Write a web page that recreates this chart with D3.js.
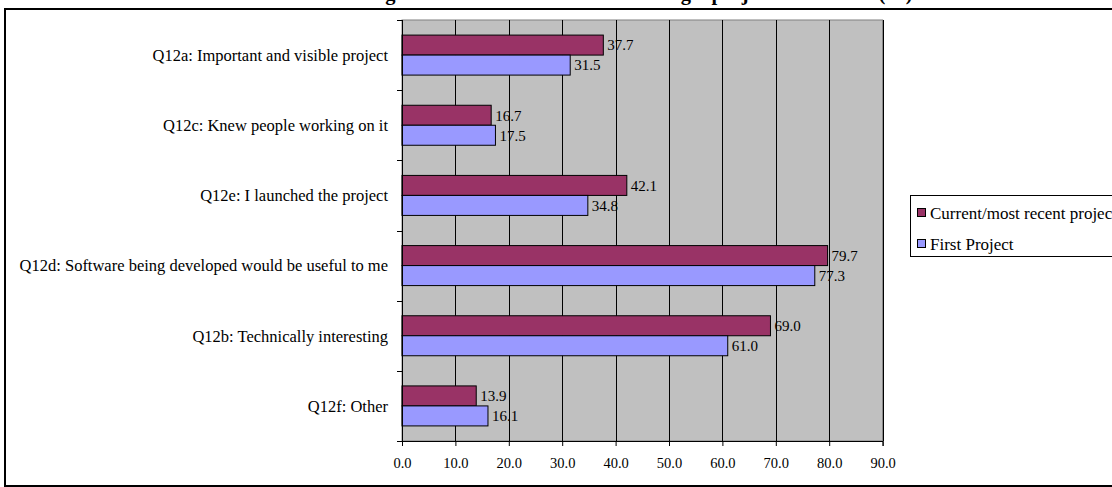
<!DOCTYPE html>
<html>
<head>
<meta charset="utf-8">
<script src="https://cdn.jsdelivr.net/npm/d3@7"></script>
<style>
  html, body { margin: 0; padding: 0; background: #fff; }
  svg { display: block; }
  svg text { font-family: "Liberation Serif", "Times New Roman", serif; fill: #000; }
</style>
</head>
<body>
<svg id="chart" width="1112" height="487"></svg>
<script>
// Survey question categories (top to bottom)
const categories = [
  "Q12a: Important and visible project",
  "Q12c: Knew people working on it",
  "Q12e: I launched the project",
  "Q12d: Software being developed would be useful to me",
  "Q12b: Technically interesting",
  "Q12f: Other"
];
const seriesNames = ["Current/most recent project", "First Project"];
const currentValues = [37.7, 16.7, 42.1, 79.7, 69.0, 13.9];
const firstValues = [31.5, 17.5, 34.8, 77.3, 61.0, 16.1];
const xTicks = [0, 10, 20, 30, 40, 50, 60, 70, 80, 90];
const colors = ["#993366", "#9999FF"];
const titleText = "Figure 12: Main reasons for selecting a project to work on (%)";

const FONT = "Liberation Serif, Times New Roman, serif";
const svg = d3.select("#chart");

// Outer chart frame
svg.append("rect")
  .attr("x", 5).attr("y", 9)
  .attr("width", 1200).attr("height", 477)
  .attr("fill", "#fff").attr("stroke", "#000").attr("stroke-width", 2);

// Title (sits above the frame, mostly outside the page)
svg.append("text")
  .attr("x", 367).attr("y", 0)
  .attr("font-family", FONT)
  .attr("font-weight", "bold").attr("font-size", 20.5)
  .text(titleText);

const plot = { left: 402, right: 882.6, top: 20, bottom: 441 };

const x = d3.scaleLinear().domain([0, 90]).range([plot.left, plot.right]);
const y = d3.scaleBand().domain(categories).range([plot.top, plot.bottom]).padding(0);
const barH = 20;

// Plot area background
svg.append("rect")
  .attr("x", plot.left).attr("y", plot.top)
  .attr("width", plot.right - plot.left).attr("height", plot.bottom - plot.top)
  .attr("fill", "#C0C0C0").attr("stroke", "#808080").attr("stroke-width", 1);

// Vertical gridlines
svg.append("g")
  .selectAll("line")
  .data(xTicks.slice(1))
  .join("line")
  .attr("x1", d => Math.round(x(d)) + 0.5).attr("x2", d => Math.round(x(d)) + 0.5)
  .attr("y1", plot.top).attr("y2", plot.bottom)
  .attr("stroke", "#000").attr("stroke-width", 1);

// Bars
const rows = categories.map((c, i) => ({ c, vals: [currentValues[i], firstValues[i]] }));
const groups = svg.append("g").selectAll("g").data(rows).join("g");

groups.selectAll("rect")
  .data(d => d.vals.map((v, k) => ({ c: d.c, v, k })))
  .join("rect")
  .attr("x", x(0))
  .attr("y", d => y(d.c) + y.bandwidth() / 2 - barH + d.k * barH)
  .attr("width", d => x(d.v) - x(0))
  .attr("height", barH)
  .attr("fill", d => colors[d.k])
  .attr("stroke", "#000").attr("stroke-width", 1);

// Value labels
groups.selectAll("text")
  .data(d => d.vals.map((v, k) => ({ c: d.c, v, k })))
  .join("text")
  .attr("x", d => x(d.v) + 4)
  .attr("y", d => y(d.c) + y.bandwidth() / 2 - barH + d.k * barH + barH / 2)
  .attr("dy", "0.35em")
  .attr("font-family", FONT)
  .attr("font-size", 15)
  .text(d => d.v.toFixed(1));

// Bottom axis
const xAxis = d3.axisBottom(x).tickValues(xTicks).tickFormat(d => d.toFixed(1)).tickSize(5).tickPadding(12);
const gx = svg.append("g").attr("transform", `translate(0,${plot.bottom})`).call(xAxis);
gx.select(".domain").attr("stroke", "#000");
gx.selectAll(".tick line").attr("stroke", "#000");
gx.selectAll(".tick text").attr("font-family", FONT).attr("font-size", 14.5).attr("fill", "#000");

// Left axis: category separator ticks
svg.append("line")
  .attr("x1", plot.left + 0.5).attr("x2", plot.left + 0.5)
  .attr("y1", plot.top).attr("y2", plot.bottom)
  .attr("stroke", "#000");
const bounds = categories.map(c => y(c)).concat([plot.bottom]);
svg.append("g").selectAll("line").data(bounds).join("line")
  .attr("x1", plot.left - 5).attr("x2", plot.left)
  .attr("y1", d => Math.round(d) + 0.5).attr("y2", d => Math.round(d) + 0.5)
  .attr("stroke", "#000");

// Category labels
svg.append("g").selectAll("text").data(categories).join("text")
  .attr("x", 388)
  .attr("y", d => y(d) + y.bandwidth() / 2)
  .attr("dy", "0.35em")
  .attr("text-anchor", "end")
  .attr("font-family", FONT)
  .attr("font-size", 16.5)
  .text(d => d);

// Legend
const lg = svg.append("g").attr("transform", "translate(910,195)");
lg.append("rect").attr("x", 0.5).attr("y", 0.5).attr("width", 300).attr("height", 61)
  .attr("fill", "#fff").attr("stroke", "#000");
seriesNames.forEach((name, k) => {
  const cy = 18 + k * 31;
  lg.append("rect").attr("x", 7.5).attr("y", cy - 4.5).attr("width", 8).attr("height", 8)
    .attr("fill", colors[k]).attr("stroke", "#000");
  lg.append("text").attr("x", 20).attr("y", cy).attr("dy", "0.35em")
    .attr("font-family", FONT)
    .attr("font-size", 17).text(name);
});
</script>
</body>
</html>
